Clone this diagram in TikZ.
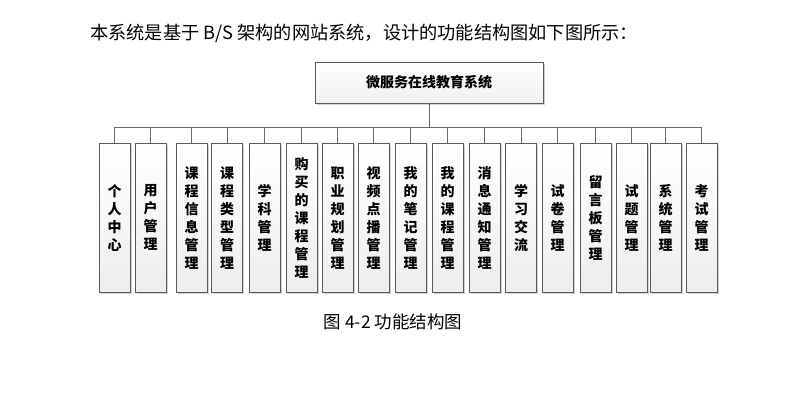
\documentclass[tikz,border=0pt]{standalone}
\usepackage{fontspec}
\usepackage{tikz}
\newfontfamily\cjk{Noto Sans CJK SC}
\usetikzlibrary{positioning, calc, shadows}

\begin{document}
\begin{tikzpicture}[x=1pt, y=-1pt,
    topbox/.style={draw=black!65, line width=0.8pt, top color=white, bottom color=gray!12,
        minimum width=228pt, minimum height=41pt, inner sep=0pt,
        drop shadow={shadow xshift=1.5pt, shadow yshift=-1.5pt, opacity=0.35},
        font=\cjk\bfseries\fontsize{14}{17}\selectfont},
    modbox/.style={draw=black!65, line width=0.8pt, top color=white, bottom color=gray!14,
        minimum width=31pt, minimum height=149pt, inner sep=0pt, anchor=north,
        align=center, text width=31pt,
        drop shadow={shadow xshift=1.5pt, shadow yshift=-1.5pt, opacity=0.35},
        font=\cjk\bfseries\fontsize{14}{18}\selectfont},
    link/.style={draw=black!60, line width=0.8pt}]
    \useasboundingbox (0,0) rectangle (793,402);

    % Intro line
    \node[anchor=west, inner sep=0pt, font=\cjk\fontsize{18.2}{20}\selectfont] (intro) at (90,33)
        {本系统是基于 B/S 架构的网站系统，设计的功能结构图如下图所示：};

    % Root
    \node[topbox] (root) at (429,82.5) {微服务在线教育系统};
    \coordinate (bus) at (root.south |- 0,127);

    % Modules
    \foreach \i/\x/\lab in {
        1/114.5/{个\\人\\中\\心},
        2/150.5/{用\\户\\管\\理},
        3/191.5/{课\\程\\信\\息\\管\\理},
        4/227/{课\\程\\类\\型\\管\\理},
        5/264.5/{学\\科\\管\\理},
        6/301.5/{购\\买\\的\\课\\程\\管\\理},
        7/337.5/{职\\业\\规\\划\\管\\理},
        8/373.5/{视\\频\\点\\播\\管\\理},
        9/410.5/{我\\的\\笔\\记\\管\\理},
        10/447.5/{我\\的\\课\\程\\管\\理},
        11/484.5/{消\\息\\通\\知\\管\\理},
        12/521/{学\\习\\交\\流},
        13/557.5/{试\\卷\\管\\理},
        14/595.5/{留\\言\\板\\管\\理},
        15/631.5/{试\\题\\管\\理},
        16/665.5/{系\\统\\管\\理},
        17/701.5/{考\\试\\管\\理}} {
        \node[modbox] (m\i) at (\x,143) {\lab};
        \draw[link] (m\i.north) |- (bus);
    }

    % Trunk
    \draw[link] (root.south) -- (bus);

    % Caption
    \node[inner sep=0pt, font=\cjk\fontsize{17.5}{20}\selectfont] (caption) at (393,322)
        {图 4-2 功能结构图};

\end{tikzpicture}
\end{document}
